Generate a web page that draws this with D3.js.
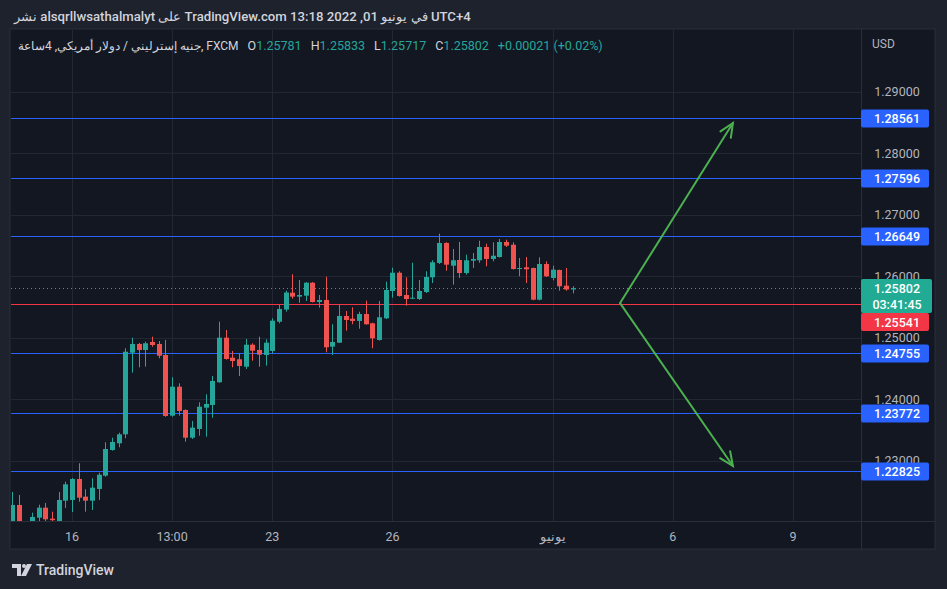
<!DOCTYPE html>
<html><head><meta charset="utf-8">
<script src="https://cdn.jsdelivr.net/npm/d3@7"></script>
<style>
html,body{margin:0;padding:0;background:#1e222d;}
svg{display:block;}
</style></head>
<body>
<svg id="c" width="947" height="589"></svg>
<script>
// ---- data ----
const opens  = [1.21900,1.22277,1.21950,1.21990,1.22070,1.22233,1.22054,1.21980,1.22347,1.22358,
  1.22699,1.22412,1.22347,1.22537,1.22753,1.23171,1.23280,1.23426,1.24753,1.24895,
  1.24797,1.24927,1.24895,1.24716,1.23729,1.24200,1.23821,1.23371,1.23512,1.23859,
  1.23903,1.24272,1.24997,1.24672,1.24646,1.24525,1.24883,1.24797,1.24716,1.24781,
  1.25257,1.25455,1.25729,1.25664,1.25680,1.25891,1.25577,1.25610,1.24851,1.24916,
  1.25350,1.25306,1.25269,1.25382,1.25231,1.24960,1.25312,1.25756,1.26054,1.25691,
  1.25631,1.25626,1.25740,1.25979,1.26212,1.26537,1.26168,1.26260,1.26049,1.26249,
  1.26256,1.26472,1.26277,1.26309,1.26553,1.26509,1.26114,1.26142,1.26130,1.25615,
  1.26195,1.25968,1.26098,1.25843,1.25781];
const highs  = [1.22488,1.22439,1.22000,1.22152,1.22282,1.22309,1.22168,1.22488,1.22656,1.22716,
  1.22955,1.22532,1.22711,1.22802,1.23296,1.23371,1.23452,1.24825,1.24997,1.24911,
  1.24932,1.25013,1.24943,1.24960,1.24353,1.24256,1.23833,1.23643,1.23947,1.24077,
  1.24374,1.25257,1.25122,1.24781,1.24743,1.24976,1.24906,1.25013,1.24971,1.25312,
  1.25529,1.25761,1.26028,1.25935,1.25900,1.25900,1.25691,1.25989,1.25215,1.25529,
  1.25431,1.25491,1.25420,1.25599,1.25240,1.25594,1.25908,1.26135,1.26077,1.25979,
  1.26216,1.25935,1.26077,1.26256,1.26688,1.26548,1.26439,1.26553,1.26347,1.26374,
  1.26574,1.26525,1.26548,1.26602,1.26591,1.26548,1.26293,1.26309,1.26135,1.26304,
  1.26239,1.26168,1.26103,1.26130,1.25833];
const lows   = [1.21800,1.21900,1.21850,1.21950,1.21990,1.21990,1.21980,1.21950,1.22228,1.22163,
  1.22330,1.22168,1.22195,1.22358,1.22737,1.23160,1.23215,1.23361,1.24428,1.24516,
  1.24525,1.24851,1.24662,1.23712,1.23712,1.23729,1.23306,1.23350,1.23403,1.23387,
  1.23696,1.24265,1.24640,1.24516,1.24374,1.24488,1.24623,1.24525,1.24542,1.24743,
  1.25231,1.25420,1.25631,1.25566,1.25594,1.25570,1.25485,1.24760,1.24716,1.24910,
  1.25111,1.25215,1.25143,1.25210,1.24825,1.24950,1.25300,1.25647,1.25665,1.25517,
  1.25625,1.25610,1.25724,1.25886,1.26195,1.26086,1.25859,1.25968,1.26021,1.26130,
  1.26216,1.26158,1.26239,1.26300,1.26472,1.26103,1.25995,1.25886,1.25605,1.25605,
  1.25984,1.25930,1.25761,1.25761,1.25717];
const closes = [1.22277,1.21950,1.21990,1.22082,1.22233,1.22044,1.22030,1.22358,1.22613,1.22699,
  1.22395,1.22347,1.22558,1.22769,1.23187,1.23301,1.23426,1.24769,1.24895,1.24797,
  1.24906,1.24878,1.24704,1.23724,1.24200,1.23805,1.23371,1.23534,1.23875,1.23919,
  1.24293,1.24997,1.24651,1.24618,1.24537,1.24883,1.24786,1.24721,1.24916,1.25273,
  1.25464,1.25732,1.25664,1.25691,1.25891,1.25577,1.25610,1.24841,1.24927,1.25350,
  1.25285,1.25269,1.25382,1.25215,1.24987,1.25329,1.25773,1.26054,1.25675,1.25626,
  1.25647,1.25756,1.25984,1.26223,1.26537,1.26184,1.26256,1.26049,1.26256,1.26277,
  1.26472,1.26277,1.26330,1.26553,1.26493,1.26114,1.26130,1.26109,1.25615,1.26195,
  1.25995,1.26103,1.25833,1.25781,1.25802];

const timeTickLabels = ["16","13:00","23","26","يونيو","6","9"];
const timeTickCandle = [10,25,40,58,82,100,118];
const priceTicks = [1.23,1.24,1.25,1.26,1.27,1.28,1.29];
const blueLevels = [1.28561,1.27596,1.26649,1.24755,1.23772,1.22825];
const redLevel = 1.25541;
const lastPrice = 1.25802;
const countdown = "03:41:45";
const arrowFrom = [92.1, 1.25560];
const arrowTargets = [[109, 1.28488],[109, 1.22911]];
const headerText = "نشر alsqrllwsathalmalyt على TradingView.com في يونيو 01, 2022 13:18 UTC+4";
const symbolText = "جنيه إسترليني / دولار أمريكي, 4ساعة, FXCM";
const ohlcLabels = ["O","H","L","C"];
const ohlcValues = ["1.25781","1.25833","1.25717","1.25802"];
const changeText = "+0.00021 (+0.02%)";

// ---- drawing ----
const svg = d3.select("#c");
const W = 947, H = 589;
const pane = {l:10, t:29, r:935, b:549};
const plot = {l:11, t:30, r:861, b:521};
const up = "#26a69a", dn = "#ef5350";

const x = d3.scaleLinear().domain([1,118]).range([11.9,793]);
const y = d3.scaleLinear().domain([1.23,1.29]).range([460.5,91.5]);

svg.append("rect").attr("width",W).attr("height",H).attr("fill","#1e222d");
svg.append("rect").attr("x",pane.l).attr("y",pane.t).attr("width",pane.r-pane.l).attr("height",pane.b-pane.t)
  .attr("fill","#131722").attr("stroke","#2a2e39");

svg.append("defs").append("clipPath").attr("id","pc").append("rect")
  .attr("x",plot.l).attr("y",plot.t).attr("width",plot.r-plot.l).attr("height",plot.b-plot.t);

const g = svg.append("g").attr("clip-path","url(#pc)");

// grid
g.selectAll(".hg").data(priceTicks).join("line")
  .attr("x1",plot.l).attr("x2",plot.r)
  .attr("y1",d=>Math.round(y(d))+0.5).attr("y2",d=>Math.round(y(d))+0.5)
  .attr("stroke","#232733");
g.selectAll(".vg").data(timeTickCandle).join("line")
  .attr("y1",plot.t).attr("y2",plot.b)
  .attr("x1",d=>Math.round(x(d))+0.5).attr("x2",d=>Math.round(x(d))+0.5)
  .attr("stroke","#232733");

// level lines
g.selectAll(".bl").data(blueLevels).join("line")
  .attr("x1",plot.l).attr("x2",plot.r)
  .attr("y1",d=>Math.round(y(d))+0.5).attr("y2",d=>Math.round(y(d))+0.5)
  .attr("stroke","#2962ff").attr("stroke-width",1).attr("shape-rendering","crispEdges");
g.append("line").attr("x1",plot.l).attr("x2",plot.r)
  .attr("y1",Math.round(y(redLevel))+0.5).attr("y2",Math.round(y(redLevel))+0.5)
  .attr("stroke","#f23645").attr("stroke-width",1).attr("shape-rendering","crispEdges");
g.append("line").attr("x1",plot.l).attr("x2",plot.r)
  .attr("y1",Math.round(y(lastPrice))+0.5).attr("y2",Math.round(y(lastPrice))+0.5)
  .attr("stroke",up).attr("stroke-dasharray","1,3");

// candles
const candles = opens.map((o,i)=>({i:i+1,o,h:highs[i],l:lows[i],c:closes[i]}));
const cg = g.selectAll(".cd").data(candles).join("g");
cg.append("line")
  .attr("x1",d=>Math.round(x(d.i))+0.5).attr("x2",d=>Math.round(x(d.i))+0.5)
  .attr("y1",d=>y(d.h)).attr("y2",d=>y(d.l))
  .attr("stroke",d=>d.c>=d.o?up:dn);
cg.append("rect")
  .attr("x",d=>Math.round(x(d.i))-2).attr("width",5)
  .attr("y",d=>y(Math.max(d.o,d.c)))
  .attr("height",d=>Math.max(1,Math.abs(y(d.o)-y(d.c))))
  .attr("fill",d=>d.c>=d.o?up:dn);

// arrows
const ag = g.append("g").attr("stroke","#4caf50").attr("stroke-width",2).attr("fill","none").attr("stroke-linecap","round");
arrowTargets.forEach(t=>{
  const x0=x(arrowFrom[0]), y0=y(arrowFrom[1]), x1=x(t[0]), y1=y(t[1]);
  ag.append("line").attr("x1",x0).attr("y1",y0).attr("x2",x1).attr("y2",y1);
  const ang=Math.atan2(y1-y0,x1-x0), L=15, a=0.42;
  ag.append("polyline").attr("points",[
    [x1-L*Math.cos(ang-a), y1-L*Math.sin(ang-a)],[x1,y1],[x1-L*Math.cos(ang+a), y1-L*Math.sin(ang+a)]
  ].map(p=>p.join(",")).join(" "));
});

// separators
svg.append("line").attr("x1",plot.r+0.5).attr("x2",plot.r+0.5).attr("y1",pane.t).attr("y2",pane.b).attr("stroke","#2a2e39");
svg.append("line").attr("x1",pane.l).attr("x2",pane.r).attr("y1",plot.b+0.5).attr("y2",plot.b+0.5).attr("stroke","#2a2e39");

const font = "Roboto, 'Liberation Sans', sans-serif";
const fmt = d3.format(".5f");

// price axis
svg.append("text").attr("x",872).attr("y",48).text("USD")
  .attr("fill","#b2b5be").attr("font-family",font).attr("font-size",12);
svg.selectAll(".pt").data(priceTicks).join("text")
  .attr("x",897).attr("y",d=>y(d)+4.5).attr("text-anchor","middle")
  .attr("fill","#b2b5be").attr("font-family",font).attr("font-size",12.5).text(fmt);

function box(yc,h,col,lines){
  svg.append("rect").attr("x",861).attr("y",yc-h/2).attr("width",lines.length>1?71:68).attr("height",h)
    .attr("rx",2).attr("fill",col);
  lines.forEach((s,k)=>{
    svg.append("text").attr("x",897).attr("y",yc-h/2+13.5+k*16).attr("text-anchor","middle")
      .attr("fill","#ffffff").attr("font-family",font).attr("font-size",12.5).attr("font-weight",500).text(s);
  });
}
blueLevels.forEach(v=>box(Math.round(y(v))+0.5,18,"#2962ff",[fmt(v)]));
const gy = Math.round(y(lastPrice));
box(gy+8,34,"#22ab94",[fmt(lastPrice),countdown]);
box(gy+8+17+9,18,"#f23645",[fmt(redLevel)]);

// time axis
svg.selectAll(".tt").data(timeTickCandle).join("text")
  .attr("x",d=>x(d)).attr("y",541).attr("text-anchor","middle")
  .attr("fill","#b2b5be").attr("font-family",font).attr("font-size",12.5)
  .text((d,i)=>timeTickLabels[i]);

// header
svg.append("text").attr("x",14).attr("y",21).attr("fill","#d1d4dc")
  .attr("font-family",font).attr("font-size",13.2).attr("font-weight",500).text(headerText);

// legend
const lg = svg.append("text").attr("x",18).attr("y",50).attr("font-family",font).attr("font-size",12.5);
lg.append("tspan").attr("fill","#d1d4dc").attr("font-size",12).text(symbolText);
ohlcLabels.forEach((l,i)=>{
  lg.append("tspan").attr("fill","#d1d4dc").attr("dx",9).text(l);
  lg.append("tspan").attr("fill",up).text(ohlcValues[i]);
});
lg.append("tspan").attr("fill",up).attr("dx",9).text(changeText);

// TradingView logo
const lgG = svg.append("g").attr("fill","#d1d4dc");
lgG.append("path").attr("d","M12,564 h9 v12 h-4 v-8 h-5 z");
lgG.append("circle").attr("cx",24).attr("cy",566).attr("r",2);
lgG.append("path").attr("d","M27,564 h5 l-6,12 h-5 z");
svg.append("text").attr("x",36).attr("y",575).attr("fill","#d1d4dc")
  .attr("font-family",font).attr("font-size",14).attr("font-weight",500).text("TradingView");
</script>
</body></html>
